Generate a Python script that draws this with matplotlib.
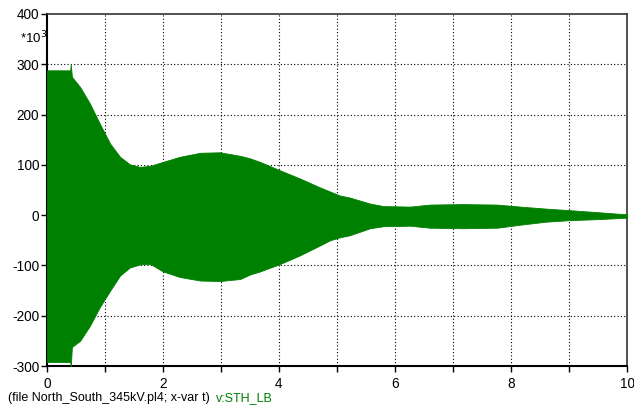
import matplotlib
matplotlib.use("Agg")
import matplotlib.pyplot as plt
from matplotlib.ticker import MultipleLocator, FixedLocator

plt.rcParams['font.family'] = ['Liberation Sans', 'DejaVu Sans']

# Envelope of the oscillating voltage v:STH_LB (kV, in units of 10^3 V)
time_s = [0.0, 0.40, 0.41, 0.43, 0.57, 0.74, 0.91, 1.09, 1.26, 1.43, 1.60,
          1.78, 2.00, 2.29, 2.64, 2.98, 3.33, 3.50, 3.67, 4.02, 4.36, 4.71,
          4.88, 5.05, 5.22, 5.57, 5.80, 6.26, 6.60, 7.17, 7.76, 8.16, 8.60,
          9.00, 9.48, 9.83, 10.0]
upper_kv = [288, 288, 300, 275, 255, 222, 182, 142, 116, 101, 96,
            98, 106, 116, 124, 125, 118, 113, 106, 89, 73, 55,
            47, 39, 35, 23, 18, 17, 21, 22, 21, 17, 13,
            10, 6, 3, 2]
lower_kv = [-292, -292, -300, -262, -250, -220, -183, -150, -120, -104, -98,
            -97, -112, -123, -130, -131, -127, -118, -112, -97, -80, -60,
            -50, -44, -40, -26, -22, -21, -25, -26, -25, -19, -13,
            -10, -8, -6, -5]

x_major = [0, 2, 4, 6, 8, 10]
y_major = [-300, -200, -100, 0, 100, 200, 300, 400]

green = '#008000'

fig = plt.figure(figsize=(6.34, 4.08), dpi=100)
ax = fig.add_axes([0.0741, 0.1029, 0.9149, 0.8628])

ax.fill_between(time_s, lower_kv, upper_kv, color=green, linewidth=0.6,
                edgecolor=green, zorder=3)

ax.set_xlim(0, 10)
ax.set_ylim(-300, 400)
ax.xaxis.set_major_locator(FixedLocator(x_major))
ax.xaxis.set_minor_locator(MultipleLocator(1))
ax.yaxis.set_major_locator(FixedLocator(y_major))

ax.tick_params(axis='both', which='both', direction='out', length=4,
               width=1, labelsize=9.8, color='black', pad=1.5)
ax.tick_params(axis='x', pad=4)
ax.set_xticklabels([str(v) for v in x_major])
ax.set_yticklabels([str(v) for v in y_major])

# dotted grid every unit in x and every 100 in y
for xv in range(1, 10):
    ax.axvline(xv, color='black', linestyle=(0, (1, 2)), linewidth=0.8, zorder=1)
for yv in range(-200, 400, 100):
    ax.axhline(yv, color='black', linestyle=(0, (1, 2)), linewidth=0.8, zorder=1)

for side in ['left', 'bottom']:
    ax.spines[side].set_linewidth(1.5)
    ax.spines[side].set_color('black')
for side in ['top', 'right']:
    ax.spines[side].set_linewidth(1.2)
    ax.spines[side].set_color('#333333')

fig.text(20 / 634, 1 - 38 / 408, r'*10$^3$', fontsize=9.5, va='center', ha='left')

fig.text(8 / 634, 1 - 398 / 408, '(file North_South_345kV.pl4; x-var t)',
         fontsize=9, va='center', ha='left', color='black')
fig.text(216 / 634, 1 - 398 / 408, 'v:STH_LB',
         fontsize=9, va='center', ha='left', color=green)

fig.savefig('out.png', dpi=100)
